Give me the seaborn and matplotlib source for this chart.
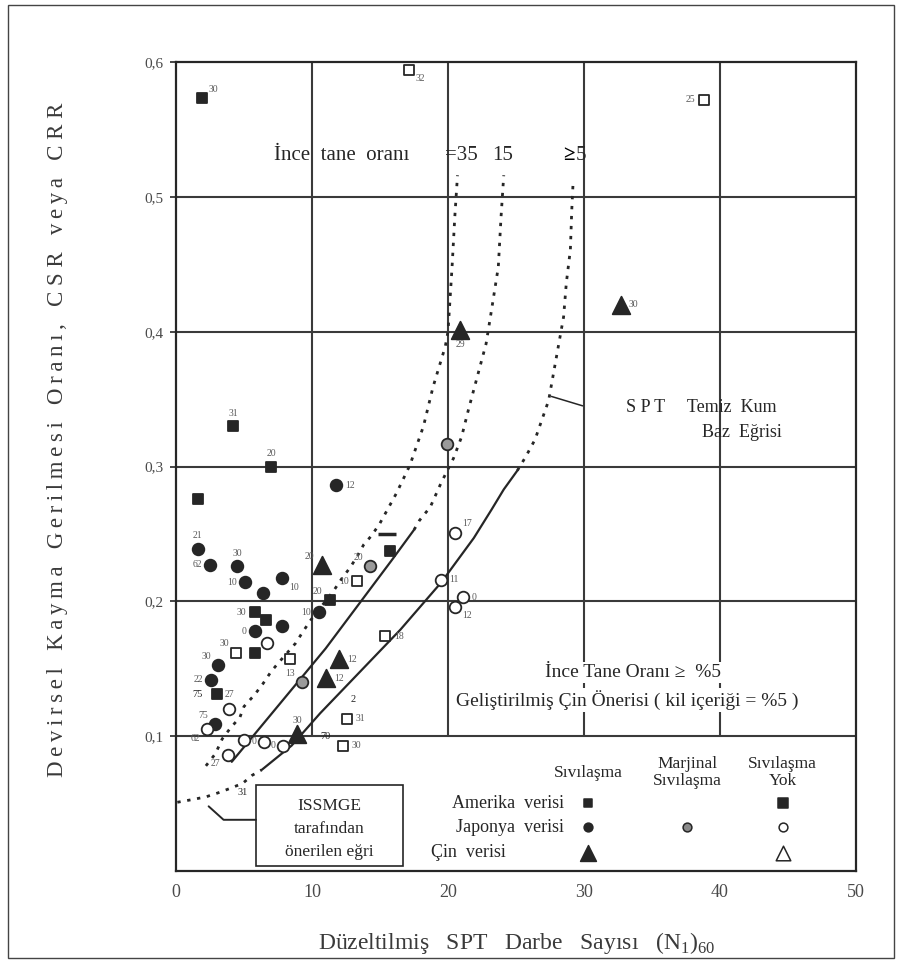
import matplotlib

matplotlib.use("Agg")
import matplotlib.pyplot as plt
import numpy as np
import pandas as pd
import seaborn as sns
from matplotlib.patches import Rectangle

# ---- data -------------------------------------------------------------
# American data, liquefaction (filled squares)
am_liq_n = [1.9, 4.2, 7.0, 1.6, 15.7, 11.3, 5.8, 6.6, 5.8, 3.0]
am_liq_csr = [0.573, 0.330, 0.300, 0.276, 0.237, 0.201, 0.192, 0.186, 0.162, 0.131]
am_liq_lab = ["30", "31", "20", "", "", "20", "30", "", "", "27"]
am_liq_pos = ["ur", "a", "a", "", "", "ul", "l", "", "", "r"]

# American data, no liquefaction (open squares)
am_non_n = [17.1, 38.8, 4.4, 8.4, 13.3, 15.4, 12.6, 12.3]
am_non_csr = [0.594, 0.572, 0.162, 0.157, 0.215, 0.174, 0.113, 0.093]
am_non_lab = ["32", "25", "30", "13", "10", "18", "31", "30"]
am_non_pos = ["br", "l", "ul", "b", "l", "r", "r", "r"]

# Japanese data, liquefaction (filled circles)
jp_liq_n = [1.6, 2.5, 4.5, 5.1, 6.4, 7.8, 7.8, 10.5, 5.8, 11.8, 3.1, 2.6, 2.9]
jp_liq_csr = [0.239, 0.227, 0.226, 0.214, 0.206, 0.217, 0.182, 0.192, 0.178,
              0.286, 0.153, 0.142, 0.109]
jp_liq_lab = ["21", "62", "30", "10", "", "10", "", "10", "0", "12", "30", "22", "75"]
jp_liq_pos = ["a", "l", "a", "l", "", "br", "", "l", "l", "r", "ul", "l", "ul"]

# Japanese data, marginal liquefaction
jp_mar_n = [19.9, 14.3, 9.3]
jp_mar_csr = [0.317, 0.226, 0.140]
jp_mar_lab = ["", "20", ""]
jp_mar_pos = ["", "ul", ""]

# Japanese data, no liquefaction (open circles)
jp_non_n = [6.7, 3.9, 2.3, 5.0, 6.5, 7.9, 3.8, 19.5, 20.5, 21.1, 20.5]
jp_non_csr = [0.169, 0.120, 0.105, 0.097, 0.096, 0.093, 0.086, 0.216, 0.251,
              0.203, 0.196]
jp_non_lab = ["", "", "62", "", "0", "0", "27", "11", "17", "0", "12"]
jp_non_pos = ["", "", "bl", "", "l", "l", "bl", "r", "ur", "r", "br"]

# Chinese data, liquefaction (filled triangles)
cn_liq_n = [20.9, 32.7, 10.7, 12.0, 11.0, 8.9]
cn_liq_csr = [0.401, 0.420, 0.227, 0.157, 0.143, 0.102]
cn_liq_lab = ["29", "30", "20", "12", "12", "30"]
cn_liq_pos = ["b", "r", "ul", "r", "r", "a"]

# isolated dash mark above the square at N~15.5
dash_n = [15.5]
dash_csr = [0.250]

# curves: fines content 35 %
fc35_n = [2.2, 2.9, 3.4, 4.0, 4.7, 5.0, 5.8, 6.4, 7.0, 7.5, 8.8, 9.3, 9.9, 11.6,
          12.2, 12.8, 13.3, 13.8, 14.4, 15.0, 16.2, 17.2, 18.2, 18.9, 19.8,
          20.0, 20.3, 20.5, 20.7]
fc35_csr = [0.078, 0.087, 0.098, 0.106, 0.114, 0.122, 0.131, 0.139, 0.148,
            0.154, 0.169, 0.177, 0.186, 0.208, 0.217, 0.225, 0.233, 0.242,
            0.249, 0.258, 0.280, 0.301, 0.330, 0.359, 0.389, 0.400, 0.448,
            0.485, 0.516]
# fines content 15 %: solid lower part, dotted upper part
fc15_solid_n = [4.1, 11.0, 15.9, 17.5]
fc15_solid_csr = [0.081, 0.165, 0.231, 0.253]
fc15_dot_n = [17.5, 17.9, 18.7, 19.5, 20.4, 21.0, 21.5, 22.8, 23.2, 23.7, 23.9, 24.1]
fc15_dot_csr = [0.253, 0.260, 0.270, 0.288, 0.306, 0.322, 0.342, 0.391, 0.416,
                0.448, 0.485, 0.516]
# fines content <= 5 % (clean sand base curve)
fc5_low_n = [0.1, 1.2, 2.2, 3.1, 3.9, 4.9, 5.6, 6.3]
fc5_low_csr = [0.051, 0.053, 0.055, 0.058, 0.061, 0.065, 0.071, 0.075]
fc5_solid_n = [6.3, 8.5, 10.6, 16.5, 19.5, 21.9, 23.2, 24.1, 25.1]
fc5_solid_csr = [0.075, 0.093, 0.117, 0.179, 0.214, 0.247, 0.268, 0.283, 0.297]
fc5_up_n = [25.1, 25.7, 26.4, 27.4, 28.2, 28.5, 28.7, 29.0, 29.1, 29.2]
fc5_up_csr = [0.297, 0.307, 0.320, 0.349, 0.394, 0.411, 0.436, 0.461, 0.490, 0.511]

x_ticks = [0, 10, 20, 30, 40, 50]
y_ticks = [0.1, 0.2, 0.3, 0.4, 0.5, 0.6]
y_tick_labels = ["0,1", "0,2", "0,3", "0,4", "0,5", "0,6"]

INK = "#262626"
GRID = "#3a3a3a"
LAB = "#5a5a5a"
DOTS = (0, (1.2, 2.4))

sns.set_theme(style="white")
plt.rcParams["font.family"] = ["Liberation Serif", "DejaVu Serif"]
plt.rcParams["mathtext.fontset"] = "custom"
plt.rcParams["mathtext.rm"] = "Liberation Serif"

fig = plt.figure(figsize=(9.02, 9.63), dpi=100)
ax = fig.add_axes([0.1951, 0.0955, 0.7539, 0.8401])
ax.set_xlim(0, 50)
ax.set_ylim(0, 0.6)

# grid: horizontal lines full width, vertical lines only above 0.1
for y in y_ticks[:-1]:
    ax.axhline(y, color=GRID, lw=1.5, zorder=0)
for x in x_ticks[1:-1]:
    ax.axvline(x, ymin=1 / 6, ymax=1, color=GRID, lw=1.5, zorder=0)

# curves
sns.lineplot(x=fc35_n, y=fc35_csr, sort=False, estimator=None, color=INK,
             lw=2.0, linestyle=DOTS, ax=ax)
sns.lineplot(x=fc15_solid_n, y=fc15_solid_csr, sort=False, estimator=None,
             color=INK, lw=1.6, ax=ax)
sns.lineplot(x=fc15_dot_n, y=fc15_dot_csr, sort=False, estimator=None,
             color=INK, lw=2.0, linestyle=DOTS, ax=ax)
sns.lineplot(x=fc5_low_n, y=fc5_low_csr, sort=False, estimator=None,
             color=INK, lw=2.0, linestyle=DOTS, ax=ax)
sns.lineplot(x=fc5_solid_n, y=fc5_solid_csr, sort=False, estimator=None,
             color=INK, lw=1.6, ax=ax)
sns.lineplot(x=fc5_up_n, y=fc5_up_csr, sort=False, estimator=None,
             color=INK, lw=2.0, linestyle=DOTS, ax=ax)

# data points
groups = [
    (am_liq_n, am_liq_csr, am_liq_lab, am_liq_pos, "s", INK, INK, 60),
    (am_non_n, am_non_csr, am_non_lab, am_non_pos, "s", "white", INK, 55),
    (jp_liq_n, jp_liq_csr, jp_liq_lab, jp_liq_pos, "o", INK, INK, 70),
    (jp_mar_n, jp_mar_csr, jp_mar_lab, jp_mar_pos, "o", "#9a9a9a", INK, 70),
    (jp_non_n, jp_non_csr, jp_non_lab, jp_non_pos, "o", "white", INK, 70),
    (cn_liq_n, cn_liq_csr, cn_liq_lab, cn_liq_pos, "^", INK, INK, 160),
]
offsets = {
    "r": ((6, 0), "left", "center"), "l": ((-6, 0), "right", "center"),
    "a": ((0, 6), "center", "bottom"), "b": ((0, -7), "center", "top"),
    "ur": ((5, 3), "left", "bottom"), "ul": ((-5, 3), "right", "bottom"),
    "br": ((5, -3), "left", "top"), "bl": ((-5, -3), "right", "top"),
}
for xs, ys, labels, pos, marker, face, edge, size in groups:
    frame = pd.DataFrame({"N": xs, "CSR": ys})
    sns.scatterplot(data=frame, x="N", y="CSR", marker=marker, color=face,
                    edgecolor=edge, linewidth=1.3, s=size, zorder=4, ax=ax)
    for x, y, text, where in zip(xs, ys, labels, pos):
        if text:
            off, ha, va = offsets[where]
            ax.annotate(text, (x, y), xytext=off, textcoords="offset points",
                        ha=ha, va=va, fontsize=7, color=LAB, zorder=5)
sns.scatterplot(x=dash_n, y=dash_csr, marker="_", color=INK, s=160,
                linewidth=2.5, zorder=4, ax=ax)

# stray numbers printed on the original
for text, x, y in [("75", 1.6, 0.131), ("70", 11.0, 0.100), ("2", 13.0, 0.127),
                   ("31", 4.9, 0.058)]:
    ax.text(x, y, text, fontsize=7.5, color=INK, ha="center", va="center")

# curve annotations
ax.text(12.2, 0.531, "İnce  tane  oranı", fontsize=15, color=INK,
        ha="center", va="center")
ax.text(21.0, 0.531, "=35", fontsize=15, color=INK, ha="center", va="center")
ax.text(24.0, 0.531, "15", fontsize=15, color=INK, ha="center", va="center")
ax.text(28.9, 0.531, "≥", fontsize=15, color="black", fontweight="bold",
        ha="center", va="center")
ax.text(29.8, 0.531, "5", fontsize=15, color=INK, ha="center", va="center")

sns.lineplot(x=[27.6, 29.9], y=[0.352, 0.345], color=INK, lw=1.1, ax=ax)
ax.text(38.6, 0.344, "S P T     Temiz  Kum", fontsize=13, color=INK,
        ha="center", va="center")
ax.text(41.6, 0.325, "Baz  Eğrisi", fontsize=13, color=INK,
        ha="center", va="center")

white = dict(facecolor="white", edgecolor="none", pad=1.5)
ax.text(33.6, 0.147, "İnce Tane Oranı ≥  %5", fontsize=14, color=INK,
        ha="center", va="center", bbox=white, zorder=3)
ax.text(33.2, 0.127, "Geliştirilmiş Çin Önerisi ( kil içeriği = %5 )",
        fontsize=14, color=INK, ha="center", va="center", bbox=white, zorder=3)

# ISSMGE box with leader
ax.add_patch(Rectangle((5.88, 0.0037), 10.81, 0.0601, fill=False, ec=INK,
                       lw=1.2, zorder=3))
ax.text(11.3, 0.048, "ISSMGE", fontsize=12.5, color=INK, ha="center", va="center")
ax.text(11.3, 0.031, "tarafından", fontsize=12.5, color=INK, ha="center", va="center")
ax.text(11.3, 0.014, "önerilen eğri", fontsize=12.5, color=INK, ha="center", va="center")
sns.lineplot(x=[2.4, 3.5, 5.88], y=[0.048, 0.038, 0.038], sort=False,
             estimator=None, color=INK, lw=1.4, ax=ax)

# custom legend block
ax.text(30.3, 0.0727, "Sıvılaşma", fontsize=12.5, color=INK, ha="center", va="center")
ax.text(37.6, 0.073, "Marjinal\nSıvılaşma", fontsize=12.5, color=INK,
        ha="center", va="center", linespacing=1.1)
ax.text(44.6, 0.073, "Sıvılaşma\nYok", fontsize=12.5, color=INK,
        ha="center", va="center", linespacing=1.1)
row_y = [0.0504, 0.0326, 0.0134]
ax.text(28.5, row_y[0], "Amerika  verisi", fontsize=13, color=INK, ha="right", va="center")
ax.text(28.5, row_y[1], "Japonya  verisi", fontsize=13, color=INK, ha="right", va="center")
ax.text(18.75, row_y[2], "Çin  verisi", fontsize=13, color=INK, ha="left", va="center")
legend_marks = [
    (30.3, row_y[0], "s", INK, 40), (44.6, row_y[0], "s", INK, 55),
    (30.3, row_y[1], "o", INK, 40), (37.6, row_y[1], "o", "#8a8a8a", 40),
    (44.6, row_y[1], "o", "white", 40),
    (30.3, row_y[2], "^", INK, 130), (44.6, row_y[2], "^", "white", 110),
]
for x, y, marker, face, size in legend_marks:
    ax.scatter([x], [y], marker=marker, c=face, edgecolors=INK, linewidths=1.1,
               s=size, zorder=4)

# axes, ticks and labels
ax.set_xticks(x_ticks)
ax.set_yticks(y_ticks)
ax.set_yticklabels(y_tick_labels)
ax.tick_params(axis="y", left=True, length=4, width=1.2, color=INK, pad=5,
               labelsize=11, labelcolor="#4a4a4a")
ax.tick_params(axis="x", bottom=False, pad=3, labelsize=13, labelcolor="#4a4a4a")
ax.set_xlabel("")
ax.set_ylabel("")
for spine in ax.spines.values():
    spine.set_color(INK)
    spine.set_linewidth(1.6)

fig.text(517 / 902, 1 - 943 / 963,
         r"Düzeltilmiş   SPT   Darbe   Sayısı   (N$_1$)$_{60}$",
         fontsize=17, color="#3a3a3a", ha="center", va="center")
ylab = "   ".join("\u2009".join(word) for word in
                  ["Devirsel", "Kayma", "Gerilmesi", "Oranı,"]) + "   C S R   " + \
       "\u2009".join("veya") + "   C R R"
fig.text(58 / 902, 1 - 440 / 963, ylab, fontsize=16.5, color="#3a3a3a",
         rotation=90, ha="center", va="center")

fig.add_artist(Rectangle((8 / 902, 5 / 963), 886 / 902, 953 / 963,
                         transform=fig.transFigure, fill=False, ec="#444444", lw=1))

fig.savefig("out.png", dpi=100)
